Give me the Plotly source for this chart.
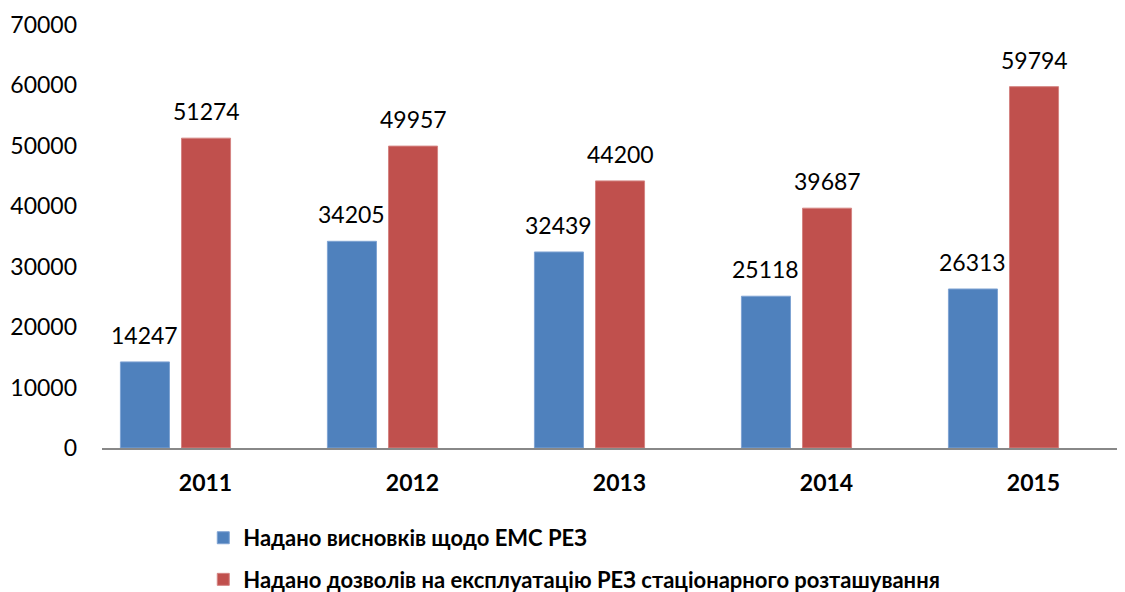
import plotly.graph_objects as go

years = ["2011", "2012", "2013", "2014", "2015"]
conclusions = [14247, 34205, 32439, 25118, 26313]
permits = [51274, 49957, 44200, 39687, 59794]
names = ["Надано висновків щодо ЕМС РЕЗ",
         "Надано дозволів на експлуатацію РЕЗ стаціонарного розташування"]
y_ticks = [0, 10000, 20000, 30000, 40000, 50000, 60000, 70000]

FONT = "Lato"
BAR_W = 0.237
OFFSETS = [-0.411, -0.116]

fig = go.Figure()
series = [(conclusions, names[0], "#4F81BD", "#7FA3D3"),
          (permits, names[1], "#C0504D", "#D48482")]
for k, (vals, name, col, edge) in enumerate(series):
    fig.add_trace(go.Bar(
        x=years, y=vals, name=name, legendgroup=f"g{k}",
        marker=dict(color=col, line=dict(color=edge, width=1)),
        width=BAR_W, offset=OFFSETS[k],
    ))
    for i, v in enumerate(vals):
        fig.add_annotation(
            x=i + OFFSETS[k] + BAR_W / 2, y=v, xref="x", yref="y",
            text=str(v), showarrow=False, yanchor="bottom", yshift=11,
            font=dict(family=FONT, size=23, color="black"),
        )

fig.update_layout(
    width=1117, height=584,
    margin=dict(l=94, r=0, t=17, b=144, autoexpand=False),
    plot_bgcolor="white", paper_bgcolor="white",
    font=dict(family=FONT, color="black"),
    barmode="overlay",
    showlegend=True,
    legend=dict(
        orientation="v",
        x=0.099, y=-0.163, xanchor="left", yanchor="top",
        font=dict(family=FONT, size=22, color="black", weight="bold"),
        tracegroupgap=10, itemwidth=30, traceorder="grouped",
    ),
    xaxis=dict(
        type="category", range=[-0.5, 4.442],
        showline=True, linecolor="#888888", linewidth=2,
        ticks="", showgrid=False, zeroline=False, tickangle=0,
        tickfont=dict(family=FONT, size=23, color="black", weight="bold"),
        ticklabelstandoff=13,
    ),
    yaxis=dict(
        range=[0, 70000], tickvals=y_ticks, tickformat="d",
        showgrid=False, zeroline=False, showline=False, ticks="",
        tickfont=dict(family=FONT, size=23, color="black"),
        ticklabelstandoff=24,
    ),
)
fig.write_html("out.html")
